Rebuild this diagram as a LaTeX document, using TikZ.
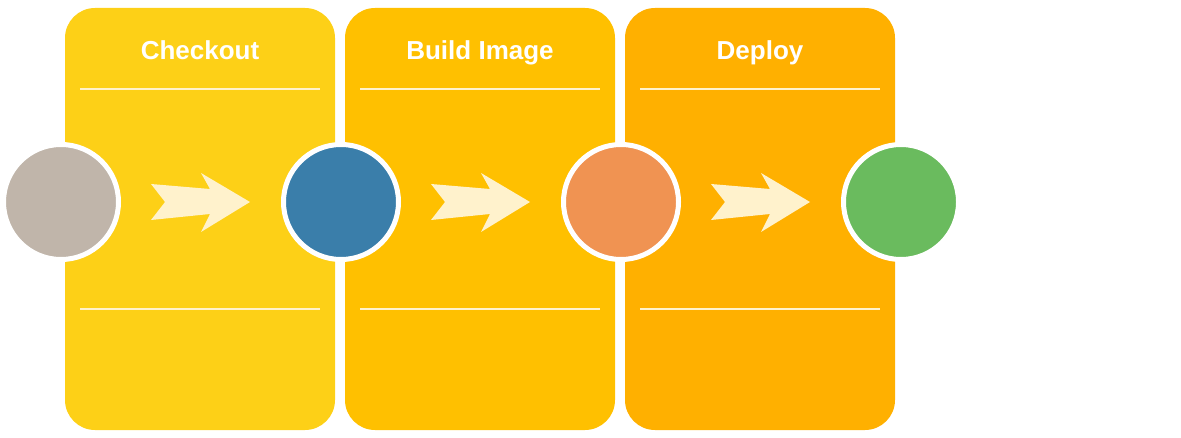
\documentclass[tikz,border=0pt]{standalone}
\usepackage{fontspec}
\setmainfont{Liberation Sans}
\definecolor{stageA}{RGB}{253,208,23}
\definecolor{stageB}{RGB}{255,192,0}
\definecolor{stageC}{RGB}{255,176,0}
\definecolor{cream}{RGB}{255,242,204}
\definecolor{tokengray}{RGB}{192,181,170}
\definecolor{tokenblue}{RGB}{58,126,170}
\definecolor{tokenorange}{RGB}{240,147,82}
\definecolor{tokengreen}{RGB}{106,187,94}

\tikzset{
    stagebox/.style={fill=#1, draw=none, rounded corners=30pt},
    stagetitle/.style={anchor=base, text=white, font=\fontsize{26}{30}\selectfont\bfseries},
    rule/.style={draw=cream, line width=2pt},
    flow/.style={fill=cream, draw=none},
    token/.style={circle, fill=#1, draw=white, line width=5pt, minimum size=115pt, inner sep=0pt},
}

\begin{document}
\begin{tikzpicture}[x=1pt, y=-1pt]
    \useasboundingbox (0,0) rectangle (1181,438);
    \begin{scope}
        \fill[stagebox=stageA] (65,8) rectangle (335,430);
        \draw[rule] (80,89) -- (320,89);
        \draw[rule] (80,309) -- (320,309);
        \node[stagetitle] (checkout) at (200,60) {Checkout};
        \fill[flow] (151,184) -- (165,202) -- (151,220) -- (210,214)
            -- (201,232) -- (250,202) -- (201,173) -- (210,189) -- cycle;
        \node[token=tokengray] (source) at (61,202) {};
    \end{scope}
    \begin{scope}[xshift=280]
        \fill[stagebox=stageB] (65,8) rectangle (335,430);
        \draw[rule] (80,89) -- (320,89);
        \draw[rule] (80,309) -- (320,309);
        \node[stagetitle] (build) at (200,60) {Build Image};
        \fill[flow] (151,184) -- (165,202) -- (151,220) -- (210,214)
            -- (201,232) -- (250,202) -- (201,173) -- (210,189) -- cycle;
        \node[token=tokenblue] (image) at (61,202) {};
    \end{scope}
    \begin{scope}[xshift=560]
        \fill[stagebox=stageC] (65,8) rectangle (335,430);
        \draw[rule] (80,89) -- (320,89);
        \draw[rule] (80,309) -- (320,309);
        \node[stagetitle] (deploy) at (200,60) {Deploy};
        \fill[flow] (151,184) -- (165,202) -- (151,220) -- (210,214)
            -- (201,232) -- (250,202) -- (201,173) -- (210,189) -- cycle;
        \node[token=tokenorange] (release) at (61,202) {};
        \node[token=tokengreen] (live) at (341,202) {};
    \end{scope}
\end{tikzpicture}
\end{document}
